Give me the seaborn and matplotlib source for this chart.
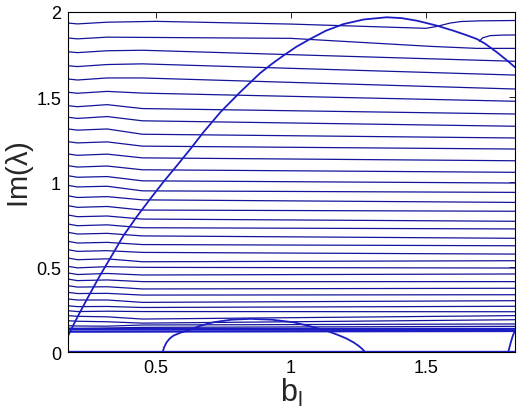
import numpy as np
import pandas as pd
import matplotlib
matplotlib.use("Agg")
import matplotlib.pyplot as plt
import seaborn as sns

# ---------------- data ----------------
# common x anchors for the near-horizontal eigenvalue branches
X_ANCH = [0.175, 0.21, 0.32, 0.45, 1.83]
Y_LEFT = [1.766, 1.684, 1.606, 1.528, 1.449, 1.381, 1.312, 1.237, 1.165, 1.096,
          1.037, 0.980, 0.919, 0.861, 0.806, 0.753, 0.704, 0.651, 0.602, 0.553,
          0.504, 0.465, 0.429, 0.390, 0.351, 0.312, 0.272, 0.243, 0.214, 0.184,
          0.155, 0.140]
Y_DIP = [1.761, 1.679, 1.600, 1.522, 1.443, 1.374, 1.305, 1.230, 1.157, 1.088,
         1.028, 0.971, 0.909, 0.851, 0.796, 0.743, 0.694, 0.641, 0.592, 0.543,
         0.495, 0.456, 0.420, 0.382, 0.344, 0.306, 0.267, 0.238, 0.210, 0.181,
         0.153, 0.139]
Y_BUMP = [1.772, 1.691, 1.612, 1.533, 1.455, 1.385, 1.312, 1.236, 1.164, 1.094,
          1.032, 0.975, 0.914, 0.856, 0.800, 0.748, 0.698, 0.645, 0.596, 0.548,
          0.502, 0.462, 0.424, 0.384, 0.345, 0.306, 0.268, 0.240, 0.207, 0.178,
          0.152, 0.141]
Y_MID = [1.775, 1.695, 1.612, 1.523, 1.432, 1.360, 1.281, 1.211, 1.142, 1.072,
         1.007, 0.948, 0.895, 0.835, 0.782, 0.731, 0.683, 0.632, 0.586, 0.531,
         0.498, 0.453, 0.414, 0.371, 0.335, 0.292, 0.262, 0.238, 0.194, 0.170,
         0.159, 0.145]
Y_RIGHT = [1.710, 1.629, 1.547, 1.475, 1.400, 1.328, 1.259, 1.194, 1.125, 1.057,
           0.994, 0.939, 0.880, 0.828, 0.769, 0.724, 0.669, 0.625, 0.576, 0.537,
           0.494, 0.459, 0.414, 0.375, 0.337, 0.302, 0.269, 0.237, 0.214, 0.190,
           0.165, 0.151]

# top two branches (they interact with the big arc)
TOP1_X = [0.175, 0.21, 0.32, 0.50, 1.00, 1.50, 1.54, 1.59, 1.63, 1.70, 1.83]
TOP1_Y = [1.935, 1.930, 1.940, 1.945, 1.929, 1.904, 1.915, 1.935, 1.944, 1.948, 1.950]
TOP2_X = [0.175, 0.21, 0.32, 1.00, 1.516, 1.689, 1.83]
TOP2_Y = [1.847, 1.842, 1.852, 1.845, 1.798, 1.786, 1.786]
FORK_X = [1.698, 1.710, 1.738, 1.78, 1.83]
FORK_Y = [1.828, 1.848, 1.861, 1.864, 1.865]

# big arc
ARC_X = [0.175, 0.200, 0.219, 0.250, 0.293, 0.340, 0.380, 0.430, 0.479, 0.528,
         0.580, 0.630, 0.676, 0.740, 0.812, 0.886, 0.930, 0.972, 1.020, 1.071,
         1.130, 1.195, 1.270, 1.355, 1.410, 1.466, 1.500, 1.540, 1.600, 1.650,
         1.689, 1.720, 1.763, 1.800, 1.830]
ARC_Y = [0.095, 0.175, 0.233, 0.325, 0.449, 0.575, 0.684, 0.797, 0.900, 1.000,
         1.100, 1.198, 1.292, 1.412, 1.528, 1.640, 1.695, 1.743, 1.795, 1.841,
         1.890, 1.929, 1.956, 1.969, 1.964, 1.949, 1.936, 1.920, 1.891, 1.864,
         1.841, 1.813, 1.763, 1.716, 1.675]

# bottom humps
HUMP_X = [0.526, 0.530, 0.540, 0.552, 0.565, 0.590, 0.615, 0.660, 0.713, 0.780,
          0.850, 0.930, 1.010, 1.070, 1.133, 1.175, 1.205, 1.232, 1.252, 1.265, 1.275]
HUMP_Y = [0.000, 0.025, 0.057, 0.080, 0.096, 0.113, 0.125, 0.152, 0.175, 0.190,
          0.195, 0.190, 0.175, 0.152, 0.125, 0.100, 0.080, 0.057, 0.035, 0.017, 0.000]
HUMP2_X = [1.805, 1.810, 1.815, 1.822, 1.830]
HUMP2_Y = [0.000, 0.030, 0.060, 0.096, 0.125]

# thick bottom branches
BOLD_X = [0.175, 1.83]
BOLD_Y = [[0.000, 0.000], [0.120, 0.124], [0.136, 0.136]]

X_TICKS = [0.5, 1, 1.5]
X_TICKLABELS = ["0.5", "1", "1.5"]
Y_TICKS = [0, 0.5, 1, 1.5, 2]
Y_TICKLABELS = ["0", "0.5", "1", "1.5", "2"]

# ---------------- build tables ----------------
rows = []
for i in range(len(Y_LEFT)):
    ys = [Y_LEFT[i], Y_DIP[i], Y_BUMP[i], Y_MID[i], Y_RIGHT[i]]
    for k, (x, y) in enumerate(zip(X_ANCH, ys)):
        rows.append(dict(curve=f"b{i}", order=k, x=x, y=y))
for name, xs, ys in [("t1", TOP1_X, TOP1_Y), ("t2", TOP2_X, TOP2_Y), ("fork", FORK_X, FORK_Y)]:
    for k, (x, y) in enumerate(zip(xs, ys)):
        rows.append(dict(curve=name, order=k, x=x, y=y))
thin = pd.DataFrame(rows)

arc = pd.DataFrame(
    [dict(curve="arc", order=k, x=x, y=y) for k, (x, y) in enumerate(zip(ARC_X, ARC_Y))]
    + [dict(curve="hump", order=k, x=x, y=y) for k, (x, y) in enumerate(zip(HUMP_X, HUMP_Y))]
    + [dict(curve="hump2", order=k, x=x, y=y) for k, (x, y) in enumerate(zip(HUMP2_X, HUMP2_Y))]
)
bold = pd.DataFrame(
    [dict(curve=f"bold{j}", order=k, x=x, y=y)
     for j, ys in enumerate(BOLD_Y) for k, (x, y) in enumerate(zip(BOLD_X, ys))]
)

# ---------------- plot ----------------
sns.set_style("white")
plt.rcParams["font.family"] = ["Liberation Sans", "DejaVu Sans"]
plt.rcParams["mathtext.default"] = "regular"

fig = plt.figure(figsize=(5.18, 4.14), dpi=100)
ax = fig.add_axes([0.1313, 0.1473, 0.8629, 0.8213])

line_col = "#14149a"
arc_col = "#1c1cc4"

sns.lineplot(data=thin, x="x", y="y", units="curve", estimator=None, sort=False,
             color=line_col, linewidth=0.9, ax=ax, legend=False)
sns.lineplot(data=arc, x="x", y="y", units="curve", estimator=None, sort=False,
             color=arc_col, linewidth=1.3, ax=ax, legend=False)
sns.lineplot(data=bold, x="x", y="y", units="curve", estimator=None, sort=False,
             color=arc_col, linewidth=1.7, ax=ax, legend=False)

ax.set_xlim(0.175, 1.83)
ax.set_ylim(0, 2)
ax.set_xticks(X_TICKS)
ax.set_xticklabels(X_TICKLABELS)
ax.set_yticks(Y_TICKS)
ax.set_yticklabels(Y_TICKLABELS)
ax.tick_params(direction="in", length=4, width=0.6, top=True, right=True,
               labelsize=13, colors="black", pad=5)
for s in ax.spines.values():
    s.set_visible(True)
    s.set_color("black")
    s.set_linewidth(0.8)

ax.set_xlabel(r"$\mathregular{b_l}$", fontsize=22, labelpad=0)
ax.set_ylabel(r"Im($\lambda$)", fontsize=21)
ax.yaxis.set_label_coords(-0.072, 0.523)

fig.savefig("out.png", dpi=100)
